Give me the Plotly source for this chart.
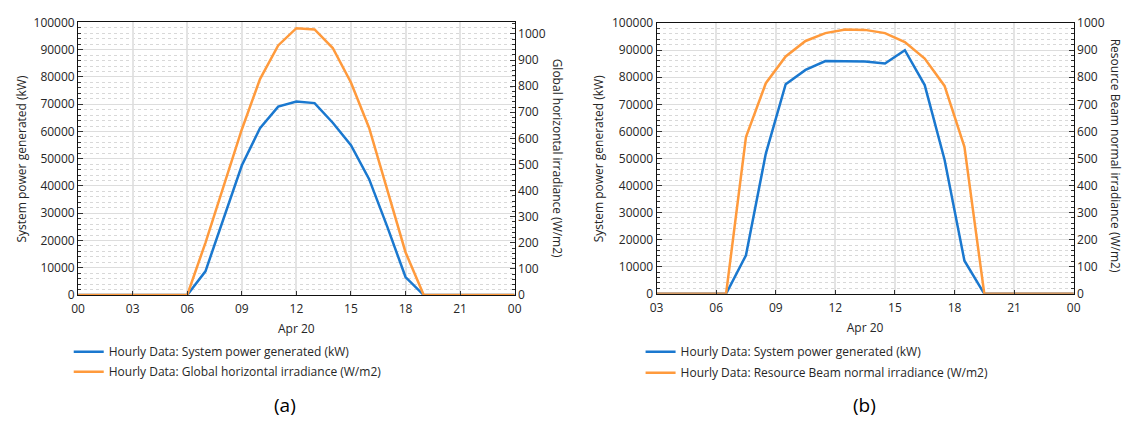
import plotly.graph_objects as go

# ---- data -------------------------------------------------------------
hour_labels = ["00", "03", "06", "09", "12", "15", "18", "21", "00"]
hour_ticks = [0, 3, 6, 9, 12, 15, 18, 21, 24]

# (a) hourly values on the hour
hours_a = list(range(0, 25))
power_a = [0, 0, 0, 0, 0, 0, 0, 8700, 28000, 47500, 61200, 69100, 71000,
           70400, 63200, 55000, 42500, 25000, 6600, 0, 0, 0, 0, 0, 0]
ghi_a = [0, 0, 0, 0, 0, 0, 0, 200, 415, 634, 827, 956, 1022,
         1017, 946, 814, 640, 400, 164, 0, 0, 0, 0, 0, 0]

# (b) hourly values on the half hour
hours_b = [2.5, 3.5, 4.5, 5.5, 6.5, 7.5, 8.5, 9.5, 10.5, 11.5, 12.5, 13.5,
           14.5, 15.5, 16.5, 17.5, 18.5, 19.5, 20.5, 21.5, 22.5, 23.5, 24.5]
power_b = [0, 0, 0, 0, 0, 14200, 51800, 77400, 82700, 86000, 86000, 85800,
           85100, 90000, 77100, 49500, 12200, 0, 0, 0, 0, 0, 0]
dni_b = [0, 0, 0, 0, 0, 579, 778, 877, 934, 963, 976, 975,
         963, 930, 869, 768, 543, 0, 0, 0, 0, 0, 0]

BLUE = "#1a78cf"
ORANGE = "#ff9a3c"
FONT = "Open Sans"
TXT = "#262626"

W, H = 1134, 423


def px(x):
    return x / W


def py(y):
    return 1 - y / H


fig = go.Figure()

series = [
    (hours_a, power_a, "x", "y", BLUE, "legend",
     "Hourly Data: System power generated (kW)"),
    (hours_a, ghi_a, "x", "y2", ORANGE, "legend2",
     "Hourly Data: Global horizontal irradiance (W/m2)"),
    (hours_b, power_b, "x2", "y3", BLUE, "legend3",
     "Hourly Data: System power generated (kW)"),
    (hours_b, dni_b, "x2", "y4", ORANGE, "legend4",
     "Hourly Data: Resource Beam normal irradiance (W/m2)"),
]
for xs, ys, xa, ya, col, leg, name in series:
    fig.add_trace(go.Scatter(x=xs, y=ys, mode="lines", xaxis=xa, yaxis=ya,
                             line=dict(color=col, width=2.5), legend=leg, name=name))

tickfont = dict(family=FONT, size=12, color=TXT)


def xaxis(domain, rng, anchor):
    return dict(domain=domain, range=rng, anchor=anchor,
                tickmode="array", tickvals=hour_ticks, ticktext=hour_labels,
                ticks="inside", ticklen=4, tickcolor="#333", tickfont=tickfont,
                ticklabelstandoff=3,
                showgrid=True, gridcolor="#e4e4e4", gridwidth=2,
                showline=True, linecolor="#111", linewidth=1, mirror=True,
                zeroline=False,
                title=dict(text="Apr 20", font=dict(family=FONT, size=12, color=TXT), standoff=8))


def ypower(domain, anchor):
    return dict(domain=domain, range=[0, 100000], anchor=anchor,
                tick0=0, dtick=10000, tickformat="d",
                ticks="inside", ticklen=5, tickcolor="#333", tickfont=tickfont,
                showgrid=True, gridcolor="#dddddd", gridwidth=1,
                minor=dict(dtick=2000, ticks="inside", ticklen=3, tickcolor="#333",
                           showgrid=True, gridcolor="#d8d8d8", griddash="dot", gridwidth=1),
                showline=True, linecolor="#111", linewidth=1, mirror=True,
                zeroline=False)


def yirr(overlay, anchor, top):
    return dict(overlaying=overlay, side="right", anchor=anchor, range=[0, top],
                tick0=0, dtick=100, tickformat="d",
                ticks="inside", ticklen=5, tickcolor="#333", tickfont=tickfont,
                minor=dict(dtick=20, ticks="inside", ticklen=3, tickcolor="#333", showgrid=False),
                showgrid=False, showline=True, linecolor="#111", linewidth=1,
                zeroline=False)


def legend_at(x_text, y_row):
    # legend text sits 40 px right of the legend's left edge
    return dict(x=px(x_text - 40), y=py(y_row), xanchor="left", yanchor="middle",
                bgcolor="rgba(0,0,0,0)", font=dict(family=FONT, size=12, color=TXT),
                itemwidth=30, borderwidth=0)


dom_ya = [py(298), py(14)]
dom_yb = [py(296.7), py(14.7)]

fig.update_layout(
    width=W, height=H,
    margin=dict(l=0, r=0, t=0, b=0),
    paper_bgcolor="white", plot_bgcolor="white",
    font=dict(family=FONT, size=12, color=TXT),
    xaxis=xaxis([px(72), px(514)], [0, 24], "y"),
    yaxis=ypower(dom_ya, "x"),
    yaxis2=yirr("y", "x", 1044),
    xaxis2=xaxis([px(657.7), px(1080)], [3, 24], "y3"),
    yaxis3=ypower(dom_yb, "x2"),
    yaxis4=yirr("y3", "x2", 1000),
    legend=legend_at(102.5, 357),
    legend2=legend_at(102.5, 378),
    legend3=legend_at(681.5, 357),
    legend4=legend_at(681.5, 379),
    showlegend=True,
)

titles = [
    ("System power generated (kW)", 15, 156, -90),
    ("Global horizontal irradiance (W/m2)", 557, 155, 90),
    ("System power generated (kW)", 599, 156, -90),
    ("Resource Beam normal irradiance (W/m2)", 1122, 153, 90),
]
for text, x, y, ang in titles:
    fig.add_annotation(text=text, x=px(x), y=py(y), xref="paper", yref="paper",
                       showarrow=False, textangle=ang, xanchor="center", yanchor="middle",
                       font=dict(family=FONT, size=12, color=TXT))

for text, x in [("(a)", 281), ("(b)", 868)]:
    fig.add_annotation(text=text, x=px(x), y=py(413), xref="paper", yref="paper",
                       showarrow=False, xanchor="center", yanchor="middle",
                       font=dict(family=FONT, size=19, color="#000"))

fig.write_html("out.html")
